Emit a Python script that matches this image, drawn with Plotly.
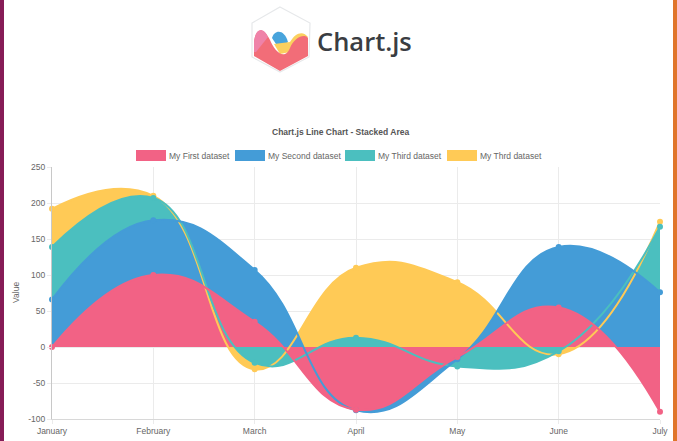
import plotly.graph_objects as go

labels = ["January", "February", "March", "April", "May", "June", "July"]
first = [0, 100, 35, -87, -14, 55, -90]
second = [66, 176, 107, -88, -17, 139, 76]
third = [139, 207, -22, 13, -27, -6, 167]
fourth = [192, 210, -31, 110, 90, -10, 174]
names = ["My First dataset", "My Second dataset", "My Third dataset", "My Thrd dataset"]
values = [first, second, third, fourth]
colors = ["#f26285", "#449cd7", "#4bbfbf", "#ffca56"]
y_ticks = [-100, -50, 0, 50, 100, 150, 200, 250]
y_tick_text = ["-100", "-50", "0", "50", "100", "150", "200", "250"]

W, H = 677, 441
L, R, T, B = 52, 660, 167, 419
SMOOTH = 1.3
FS = 8.5


def px(x):
    return (x - L) / (R - L)


def py(y):
    return (B - y) / (B - T)


fig = go.Figure()
# fills first (last dataset at the back), then lines and points above all fills
for name, vals, col in reversed(list(zip(names, values, colors))):
    fig.add_trace(go.Scatter(x=labels, y=vals, mode="none", fill="tozeroy", fillcolor=col,
                             line=dict(shape="spline", smoothing=SMOOTH), showlegend=False,
                             hoverinfo="skip"))
for name, vals, col in reversed(list(zip(names, values, colors))):
    fig.add_trace(go.Scatter(x=labels, y=vals, name=name, mode="lines+markers",
                             line=dict(color=col, width=2, shape="spline", smoothing=SMOOTH),
                             marker=dict(color=col, size=6), cliponaxis=False, showlegend=False))

shapes = []
annotations = []


def rect(x0, y0, x1, y1, col):
    shapes.append(dict(type="rect", xref="paper", yref="paper", x0=px(x0), x1=px(x1),
                       y0=py(y0), y1=py(y1), fillcolor=col, line=dict(width=0), layer="above"))


def path(points, fill, line_col=None, line_w=0, opacity=1):
    d = ""
    for cmd, pts in points:
        if cmd == "L":
            d += "".join(f"L{px(x):.5f},{py(y):.5f}" for x, y in pts)
        elif cmd == "Z":
            d += "Z"
        else:
            d += cmd + " ".join(f"{px(x):.5f},{py(y):.5f}" for x, y in pts)
    shapes.append(dict(type="path", xref="paper", yref="paper", path=d, fillcolor=fill, opacity=opacity,
                       line=dict(color=line_col or "rgba(0,0,0,0)", width=line_w), layer="above"))


def text(x, y, s, size, col, anchor="left", bold=False, family="Liberation Sans", weight=None):
    font = dict(size=size, color=col, family=family)
    if weight:
        font["weight"] = weight
    annotations.append(dict(xref="paper", yref="paper", x=px(x), y=py(y), text=f"<b>{s}</b>" if bold else s,
                            showarrow=False, xanchor=anchor, yanchor="middle", font=font))


# page edges
rect(0, 0, 4, H, "#861c57")
rect(673, 0, W, H, "#e0752b")

# legend
legend_x = [(136, 167), (235, 266), (345, 376), (447, 478)]
for (sx, tx), name, col in zip(legend_x, names, colors):
    rect(sx, 150, sx + 30, 161, col)
    text(tx, 155.5, name, FS, "#666666")

# title and y-axis title
text(340, 131.5, "Chart.js Line Chart - Stacked Area", FS, "#555555", "center", True)
annotations.append(dict(xref="paper", yref="paper", x=px(16), y=py(293), text="Value", showarrow=False,
                        textangle=-90, xanchor="center", yanchor="middle",
                        font=dict(size=FS, color="#666666", family="Liberation Sans")))

# logo
path([("M", [(280, 7)]), ("L", [(310, 23), (309, 57), (280, 72), (252, 57), (252, 23)]), ("Z", [])],
     "rgba(0,0,0,0)", "#e6e8ea", 1.2)
path([("M", [(272, 38)]), ("C", [(274, 30), (284, 28), (288, 42)]), ("L", [(280, 50)]), ("Z", [])], "#48a4dc")
path([("M", [(274, 44)]), ("L", [(290, 42)]), ("C", [(295, 33), (303, 30), (308, 37)]),
      ("L", [(290, 52), (280, 54)]), ("Z", [])], "#fbd05f")
path([("M", [(254, 56)]), ("L", [(254, 42)]), ("C", [(256, 26), (264, 28), (270, 40)]),
      ("C", [(274, 50), (284, 62), (290, 48)]), ("C", [(294, 38), (304, 33), (308, 38)]),
      ("L", [(308, 56), (280, 71)]), ("Z", [])], "#f26d78")
path([("M", [(254, 52)]), ("L", [(254, 42)]), ("C", [(256, 26), (264, 28), (268, 37)]),
      ("L", [(256, 52)]), ("Z", [])], "#ef82a8")
text(315, 41, "Chart.js", 25.5, "#3a3d42", family="Open Sans", weight=600)

fig.update_layout(
    width=W, height=H, margin=dict(l=L, r=W - R, t=T, b=H - B, autoexpand=False),
    paper_bgcolor="white", plot_bgcolor="white", showlegend=False,
    shapes=shapes, annotations=annotations,
    font=dict(family="Liberation Sans", size=FS, color="#666666"),
    xaxis=dict(type="category", range=[0, 6], showgrid=True, gridcolor="#ebebeb", gridwidth=1,
               ticks="outside", ticklen=4, tickcolor="#ebebeb", showline=True, linecolor="#d8d8d8",
               zeroline=False, tickfont=dict(size=FS, color="#666666"), automargin=False),
    yaxis=dict(range=[-100, 250], tickvals=y_ticks, ticktext=y_tick_text,
               showgrid=True, gridcolor="#ebebeb", gridwidth=1, zeroline=False,
               ticks="outside", ticklen=4, tickcolor="#ebebeb", showline=True, linecolor="#c8c8c8",
               tickfont=dict(size=FS, color="#666666"), automargin=False),
)
fig.write_html("out.html", config=dict(displayModeBar=False),
               post_script="document.body.style.margin='0';document.body.style.overflow='hidden';")
